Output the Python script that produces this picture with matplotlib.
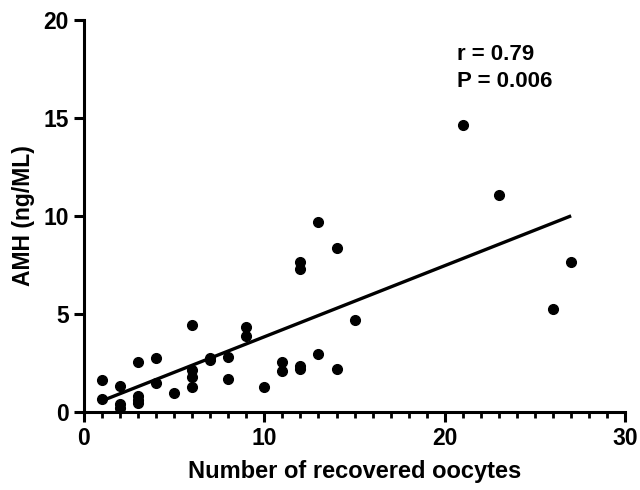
import numpy as np
import matplotlib.pyplot as plt
from matplotlib.ticker import MultipleLocator

plt.rcParams['font.family'] = ['Liberation Sans', 'DejaVu Sans']
plt.rcParams['font.weight'] = 'bold'

# --- data ---
oocytes = [1, 1, 2, 2, 2, 3, 3, 3, 3, 4, 4, 5, 6, 6, 6, 6, 7, 7, 8, 8,
           9, 9, 10, 11, 11, 12, 12, 12, 12, 13, 13, 14, 14, 15, 21, 23, 26, 27]
amh = [1.62, 0.65, 1.33, 0.37, 0.2, 2.52, 0.82, 0.6, 0.43, 2.72, 1.45, 0.94,
       4.43, 2.13, 1.79, 1.28, 2.72, 2.62, 2.8, 1.67, 4.34, 3.86, 1.28, 2.52,
       2.09, 2.35, 2.2, 7.66, 7.27, 9.69, 2.94, 8.37, 2.18, 4.68, 14.62, 11.08,
       5.24, 7.64]

# regression line end points as drawn
fit_x = [1, 27]
fit_y = [0.55, 10.0]

r_text = 'r = 0.79'
p_text = 'P = 0.006'

fig = plt.figure(figsize=(6.4, 4.9), dpi=100)
ax = fig.add_axes([0.131, 0.160, 0.846, 0.799])

ax.plot(oocytes, amh, 'o', color='black', markersize=7, clip_on=False, zorder=3)
ax.plot(fit_x, fit_y, color='black', linewidth=2.4, solid_capstyle='butt')

ax.set_xlim(0, 30)
ax.set_ylim(0, 20)
ax.xaxis.set_major_locator(MultipleLocator(10))
ax.xaxis.set_minor_locator(MultipleLocator(1))
ax.yaxis.set_major_locator(MultipleLocator(5))

for side in ['top', 'right']:
    ax.spines[side].set_visible(False)
for side in ['left', 'bottom']:
    ax.spines[side].set_linewidth(2.2)

ax.tick_params(axis='both', which='major', width=2.2, length=7, labelsize=16.5, pad=4)
ax.tick_params(axis='x', which='minor', width=2.0, length=4.5)

ax.set_xlabel('Number of recovered oocytes', fontsize=17, fontweight='bold', labelpad=7)
ax.set_ylabel('AMH (ng/ML)', fontsize=16.5, fontweight='bold', labelpad=6)

ax.text(0.69, 0.94, r_text + '\n' + p_text, transform=ax.transAxes,
        fontsize=16, fontweight='bold', va='top', ha='left', linespacing=1.4)

fig.savefig('out.png', dpi=100)
